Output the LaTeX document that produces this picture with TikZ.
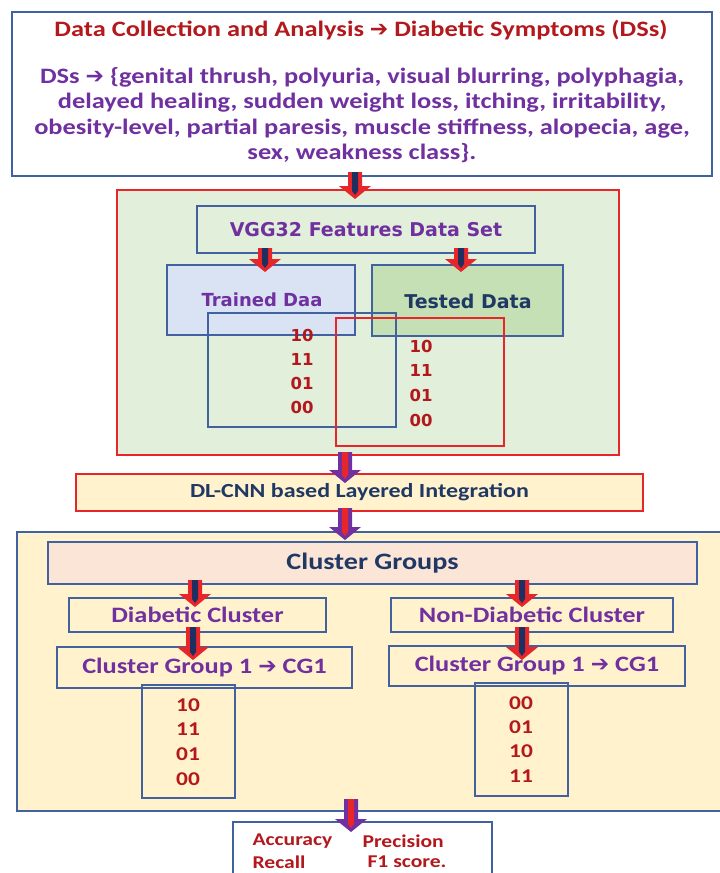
\documentclass[tikz,border=0pt]{standalone}
\usepackage{fontspec}
\setmainfont{Carlito}[FakeStretch=1.2]
\newfontfamily\wide{DejaVu Sans}
\newfontfamily\sym{DejaVu Sans}
\usetikzlibrary{calc}

\definecolor{frameblue}{HTML}{41619F}
\definecolor{framered}{HTML}{E8262A}
\definecolor{txtred}{HTML}{B3181C}
\definecolor{txtpurple}{HTML}{7030A0}
\definecolor{txtnavy}{HTML}{1F3864}
\definecolor{arrnavy}{HTML}{1F3060}
\definecolor{greenbg}{HTML}{E2EFDA}
\definecolor{greenbox}{HTML}{C5E0B4}
\definecolor{bluebox}{HTML}{DAE3F3}
\definecolor{creambg}{HTML}{FFF2CC}
\definecolor{peachbox}{HTML}{FBE5D6}

% block arrow pointing down, from coordinate #1 to #2, outer colour #3, inner colour #4
\newcommand\blockarr[4]{%
  \fill[#3] let \p1=(#1), \p2=(#2) in
    (\x1-7,\y1) -- (\x1+7,\y1) -- (\x1+7,\y2+13) -- (\x1+16,\y2+13)
    -- (\x1,\y2) -- (\x1-16,\y2+13) -- (\x1-7,\y2+13) -- cycle;
  \fill[#4] let \p1=(#1), \p2=(#2) in
    (\x1-3,\y1) -- (\x1+3,\y1) -- (\x1+3,\y2+8) -- (\x1,\y2+4) -- (\x1-3,\y2+8) -- cycle;
}

\begin{document}
\begin{tikzpicture}[x=1pt,y=-1pt,
  box/.style={draw=frameblue, line width=1.6pt, inner sep=0pt},
  rbox/.style={draw=framered, line width=1.6pt, inner sep=0pt},
  num/.style={text=txtred, font=\bfseries\fontsize{19.5}{20}\selectfont, align=center},
  wnum/.style={text=txtred, font=\wide\bfseries\fontsize{16.5}{17}\selectfont, align=center},
  metric/.style={text=txtred, font=\bfseries\fontsize{18}{20}\selectfont, anchor=west},
]
\useasboundingbox (0,0) rectangle (720,873);
\clip (0,0) rectangle (720,873);

% ---------- data collection ----------
\draw[box, fill=white] (12,12) rectangle (712,176);
\node[text=txtred, font=\bfseries\fontsize{22}{24}\selectfont] (title) at (361,30)
  {Data Collection and Analysis {\sym\bfseries ➔} Diabetic Symptoms (DSs)};
\node[text=txtpurple, font=\bfseries\fontsize{22}{25.5}\selectfont, align=center] (dss) at (362,115)
  {DSs {\sym\bfseries ➔} \{genital thrush, polyuria, visual blurring, polyphagia,\\
   delayed healing, sudden weight loss, itching, irritability,\\
   obesity-level, partial paresis, muscle stiffness, alopecia, age,\\
   sex, weakness class\}.};

% ---------- feature extraction ----------
\draw[rbox, fill=greenbg] (117,190) rectangle (619,455);
\node[box, minimum width=338pt, minimum height=47pt, text=txtpurple,
  font=\wide\bfseries\fontsize{19}{20}\selectfont] (vgg) at (366,229.5) {VGG32 Features Data Set};

\node[box, fill=bluebox, minimum width=188pt, minimum height=70pt] (train) at (261,300) {};
\node[text=txtpurple, font=\wide\bfseries\fontsize{18}{20}\selectfont] (trainlbl) at (262,300) {Trained Daa};
\node[box, fill=greenbox, minimum width=191pt, minimum height=71pt] (test) at (467.5,300.5) {};
\node[text=txtnavy, font=\wide\bfseries\fontsize{19}{20}\selectfont] (testlbl) at (468,301) {Tested Data};

\draw[draw=frameblue, line width=1.6pt] (208,313) rectangle (396,427);
\draw[draw=framered, line width=1.6pt] (336,318) rectangle (504,446);
\node[wnum] (tr1) at (302,335) {10};
\node[wnum] (tr2) at (302,359) {11};
\node[wnum] (tr3) at (302,383) {01};
\node[wnum] (tr4) at (302,407) {00};
\node[wnum] (te1) at (421,346) {10};
\node[wnum] (te2) at (421,370) {11};
\node[wnum] (te3) at (421,395) {01};
\node[wnum] (te4) at (421,420) {00};

% ---------- integration ----------
\node[rbox, fill=creambg, minimum width=567pt, minimum height=37pt,
  text=txtnavy, font=\bfseries\fontsize{20}{22}\selectfont] (dl) at (359.5,492.5) {DL-CNN based Layered Integration};

% ---------- clustering ----------
\draw[box, fill=creambg] (17,532) rectangle (724,811);
\node[box, fill=peachbox, minimum width=649pt, minimum height=42pt,
  text=txtnavy, font=\bfseries\fontsize{23.5}{25}\selectfont] (cg) at (372.5,563) {Cluster Groups};

\node[box, minimum width=257pt, minimum height=34pt, text=txtpurple,
  font=\bfseries\fontsize{22}{24}\selectfont] (dia) at (197.5,615) {Diabetic Cluster};
\node[box, minimum width=282pt, minimum height=34pt, text=txtpurple,
  font=\bfseries\fontsize{22}{24}\selectfont] (ndia) at (532,615) {Non-Diabetic Cluster};

\node[box, minimum width=295pt, minimum height=41pt, text=txtpurple,
  font=\bfseries\fontsize{22}{24}\selectfont] (cg1) at (204.5,667.5) {Cluster Group 1 {\sym\bfseries ➔} CG1};
\node[box, minimum width=296pt, minimum height=40pt, text=txtpurple,
  font=\bfseries\fontsize{22}{24}\selectfont] (cg2) at (537,666) {Cluster Group 1 {\sym\bfseries ➔} CG1};

\draw[draw=frameblue, line width=1.6pt] (142,685) rectangle (235,798);
\node[num] (l1) at (188,705) {10};
\node[num] (l2) at (188,729) {11};
\node[num] (l3) at (188,754) {01};
\node[num] (l4) at (188,779) {00};
\draw[draw=frameblue, line width=1.6pt] (475,683) rectangle (568,796);
\node[num] (r1) at (521,703) {00};
\node[num] (r2) at (521,727) {01};
\node[num] (r3) at (521,751) {10};
\node[num] (r4) at (521,776) {11};

% ---------- metrics ----------
\draw[box, fill=white] (233,822) rectangle (492,880);
\node[metric] (acc) at (249,841) {Accuracy};
\node[metric] (pre) at (359,841) {Precision};
\node[metric] (rec) at (249,862) {Recall};
\node[metric] (f1) at (364,862) {F1 score.};

% ---------- flow arrows ----------
\blockarr{355,172}{355,199}{framered}{arrnavy}
\blockarr{265,248}{265,272}{framered}{arrnavy}
\blockarr{461,248}{461,272}{framered}{arrnavy}
\blockarr{345,452}{345,483}{txtpurple}{framered}
\blockarr{345,508}{345,540}{txtpurple}{framered}
\blockarr{195,580}{195,607}{framered}{arrnavy}
\blockarr{522,580}{522,607}{framered}{arrnavy}
\blockarr{193,627}{193,660}{framered}{arrnavy}
\blockarr{522,627}{522,660}{framered}{arrnavy}
\blockarr{351,799}{351,832}{txtpurple}{framered}
\end{tikzpicture}
\end{document}
